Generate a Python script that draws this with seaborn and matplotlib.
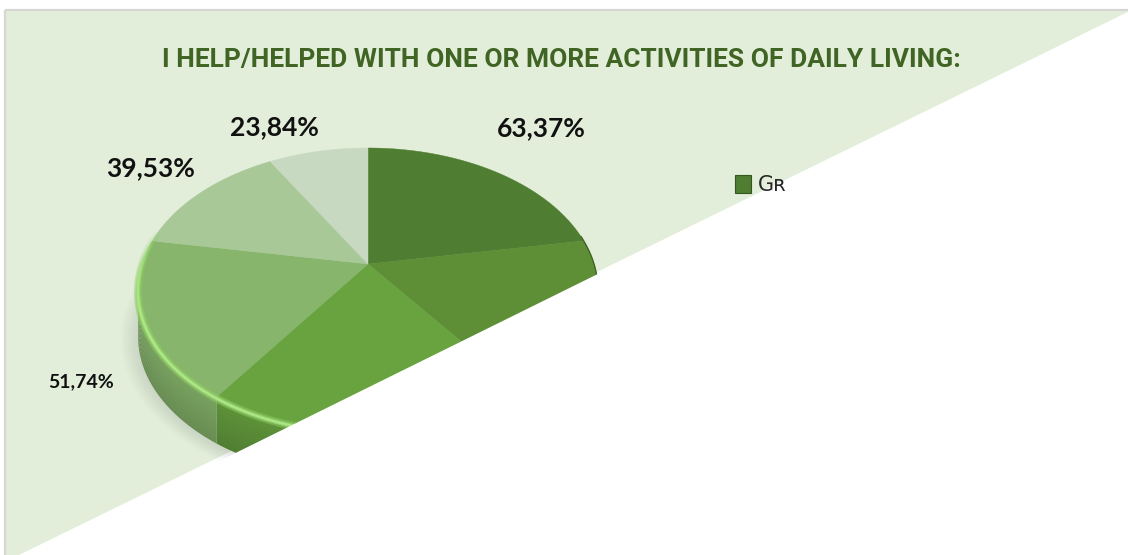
import numpy as np
import matplotlib
matplotlib.use("Agg")
import matplotlib.pyplot as plt
import seaborn as sns
from matplotlib.patches import Polygon, Patch
from matplotlib.collections import LineCollection
from matplotlib import font_manager as fm
from matplotlib.colors import to_rgb

# ---------------- data ----------------
title = "I HELP/HELPED WITH ONE OR MORE ACTIVITIES OF DAILY LIVING:"
series_name = "G\u0280"
values = [63.37, 50.58, 56.10, 51.74, 39.53, 23.84]
slice_colors = ["#4f7d31", "#5e8f37", "#68a33f", "#86b56b", "#a9c898", "#c8d9c1"]
labels = [f"{v:.2f}".replace(".", ",") + "%" for v in values]

# ---------------- style ----------------
sns.set_theme(style="white")
palette = sns.color_palette(slice_colors)


def has_font(name):
    try:
        fm.findfont(fm.FontProperties(family=name), fallback_to_default=False)
        return True
    except Exception:
        return False


label_family = ["Lato", "DejaVu Sans"] if has_font("Lato") else ["DejaVu Sans"]
plt.rcParams["font.family"] = ["DejaVu Sans"]

W, H = 1128, 555
fig = plt.figure(figsize=(W / 100, H / 100), dpi=100)
ax = fig.add_axes([0, 0, 1, 1])
ax.set_xlim(0, W)
ax.set_ylim(H, 0)
ax.set_axis_off()

BG_GREEN = "#e2eed9"
ax.add_patch(Polygon([(6, 11), (W, 11), (W, 12), (19, H), (6, H)], closed=True,
                     facecolor=BG_GREEN, edgecolor="none", zorder=0))
ax.plot([5, W], [10, 10], color="#d6d6d6", lw=1.6, zorder=1, solid_capstyle="butt")
ax.plot([5, 5], [10, H], color="#d6d6d6", lw=1.6, zorder=1, solid_capstyle="butt")

# ---------------- 3D pie geometry (layout) ----------------
CX, CY, A, B, K, DEPTH = 368, 264, 226, 137.3, 0.1834, 46


def proj(phi, r=1.0):
    u = r * np.cos(phi)
    v = r * np.sin(phi)
    w = 1 + K * v
    return CX + A * u / w, CY - B * v / w


def shade(c, f):
    r, g, b = to_rgb(c)
    return (min(r * f, 1), min(g * f, 1), min(b * f, 1))


total = float(np.sum(values))
cum = np.concatenate([[0], np.cumsum(values)]) / total
starts = np.deg2rad(90 - 360 * cum[:-1])
ends = np.deg2rad(90 - 360 * cum[1:])

# soft shadow
phis_all = np.linspace(0, 2 * np.pi, 300)
sx, sy = proj(phis_all)
for i in range(8):
    s = 1 + 0.01 * i
    ax.add_patch(Polygon(np.column_stack([CX + (sx - CX) * s - 1, (sy - 290) * s + 290 + DEPTH + 3]),
                         closed=True, facecolor="#6a6a6a", edgecolor="none",
                         alpha=0.02, zorder=2))

# side walls (front-facing rim only)
front_lo = np.deg2rad(-180 + np.degrees(np.arcsin(K)))
front_hi = np.deg2rad(-np.degrees(np.arcsin(K)))
NSTRIP = 10
for i, col in enumerate(palette):
    lo = max(ends[i], front_lo)
    hi = min(starts[i], front_hi)
    if hi <= lo:
        continue
    ph = np.linspace(hi, lo, 80)
    x, y = proj(ph)
    for j in range(NSTRIP):
        d0 = DEPTH * j / NSTRIP
        d1 = DEPTH * (j + 1) / NSTRIP + 0.6
        f = 0.9 - 0.12 * (j / (NSTRIP - 1))
        pts = np.concatenate([np.column_stack([x, y + d0]),
                              np.column_stack([x[::-1], y[::-1] + d1])])
        ax.add_patch(Polygon(pts, closed=True, facecolor=shade(col, f),
                             edgecolor="none", zorder=3))

# top surface
for i, col in enumerate(palette):
    ph = np.linspace(starts[i], ends[i], 120)
    x, y = proj(ph)
    pts = np.concatenate([[[CX, CY]], np.column_stack([x, y])])
    ax.add_patch(Polygon(pts, closed=True, facecolor=col, edgecolor=col,
                         lw=0.3, zorder=4))

# rim highlight (soft glow + core)
ph = np.deg2rad(np.linspace(165, 305, 180))
hx, hy = proj(ph)
segs = [[(hx[i], hy[i] + 1.5), (hx[i + 1], hy[i + 1] + 1.5)] for i in range(len(hx) - 1)]
t = np.linspace(0, 1, len(segs))
prof = np.clip(np.sin(np.pi * t) * 1.4, 0, 1)
for lw, amax, c in [(6.0, 0.25, "#8fcf66"), (3.0, 0.55, "#9fdc76"), (1.4, 0.7, "#b4ea8e")]:
    rgb = to_rgb(c)
    ax.add_collection(LineCollection(segs, colors=[(rgb[0], rgb[1], rgb[2], a * amax) for a in prof],
                                     linewidths=lw, zorder=5, capstyle="round"))

# right dark edge of rim
ph = np.deg2rad(np.linspace(-25, 12, 40))
rx, ry = proj(ph)
ax.plot(rx, ry, color="#3f6426", lw=1.0, zorder=5)

# data labels
label_nudge = [(46, -44), (50, 0), (0, 35), (-62, 61), (-50, -25), (-44, -24)]
label_sizes = [19, 19, 19, 14, 19, 19]
mids = (starts + ends) / 2
for i, lab in enumerate(labels):
    bx, by = proj(mids[i])
    ax.text(bx + label_nudge[i][0], by + label_nudge[i][1], lab,
            ha="center", va="center", fontsize=label_sizes[i],
            fontweight="bold", family=label_family, color="#111111", zorder=6)

# white cut-off triangle over the lower right
ax.add_patch(Polygon([(W, 12), (W, H + 5), (19, H + 5)], closed=True,
                     facecolor="white", edgecolor="none", zorder=7))

# title: pick the narrowest installed bold sans, then fit to the reference span
renderer = fig.canvas.get_renderer()
best_fam, best_w = "DejaVu Sans", None
for fam in ["Roboto", "Lato", "Liberation Sans", "Noto Sans", "DejaVu Sans"]:
    if not has_font(fam):
        continue
    tt = ax.text(0, 0, title, fontsize=20, fontweight="bold", family=fam)
    wpx = tt.get_window_extent(renderer=renderer).width
    tt.remove()
    if best_w is None or wpx < best_w:
        best_fam, best_w = fam, wpx
ttl = ax.text(561, 67, title, ha="center", va="baseline", family=best_fam,
              fontweight="bold", fontsize=20, color="#406424", zorder=8)
fig.canvas.draw()
bb = ttl.get_window_extent(renderer=fig.canvas.get_renderer())
ttl.set_fontsize(min(20 * 798.0 / bb.width, 22))

# legend
handle = Patch(facecolor=slice_colors[0], edgecolor="#35561f", linewidth=0.8)
leg = ax.legend([handle], [series_name], loc="center left",
                bbox_to_anchor=(735, 185), bbox_transform=ax.transData,
                frameon=False, borderpad=0, borderaxespad=0, handlelength=0.75,
                handleheight=0.95, handletextpad=0.35, prop={"size": 15})
leg.set_zorder(10)

fig.savefig("out.png", dpi=100)
